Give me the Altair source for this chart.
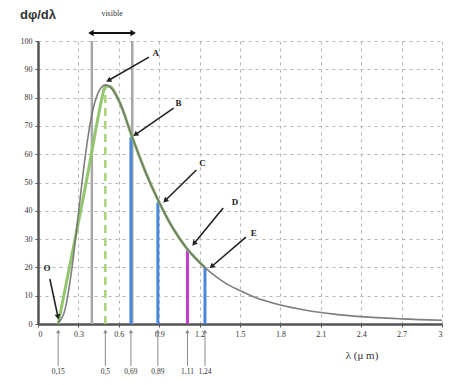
import math
import altair as alt
import pandas as pd

W, H = 404, 283
XMAX, YMAX = 3.0, 100.0

# gray radiation curve
curve_x = [0.15, 0.2, 0.25, 0.3, 0.35, 0.4, 0.45, 0.5, 0.55, 0.6, 0.7, 0.8, 0.9, 1.0,
           1.1, 1.2, 1.3, 1.4, 1.5, 1.6, 1.8, 2.0, 2.2, 2.4, 2.7, 3.0]
curve_y = [0.3, 5, 19, 39, 59, 74, 82, 84.5, 83, 79, 66, 53.5, 43, 34,
           27, 21.7, 17.5, 14.2, 11.8, 9.6, 6.7, 4.8, 3.5, 2.6, 1.8, 1.3]

# green curve
green_x = [0.15, 0.2, 0.25, 0.3, 0.35, 0.4, 0.45, 0.48, 0.5, 0.53, 0.6, 0.7, 0.8, 0.9, 1.0, 1.1, 1.24]
green_y = [0, 12, 24, 36, 48, 61, 74, 81, 84, 84, 79, 66, 53.5, 43, 34, 27, 20]

# visible band limits
vis_x = [0.4, 0.7]
# dashed peak marker
peak_x = [0.5]
peak_y = [84]
# coloured verticals
bar_x = [0.69, 0.89, 1.11, 1.24]
bar_y = [66, 43, 26.5, 20]
bar_c = ["#4a88dc", "#4a88dc", "#c23fd0", "#4a88dc"]

# bottom callouts
bot_x = [0.15, 0.5, 0.69, 0.89, 1.11, 1.24]
bot_t = ["0,15", "0,5", "0,69", "0,89", "1,11", "1,24"]

# letter annotations
let_t = ["A", "B", "C", "D", "E", "O"]
let_x = [0.875, 1.044, 1.221, 1.463, 1.603, 0.066]
let_y = [95.8, 78.1, 56.9, 43.1, 32.2, 19.8]
arr_x0 = [0.824, 1.007, 1.176, 1.375, 1.544, 0.088]
arr_y0 = [94.3, 76.3, 54.4, 41.0, 30.7, 15.9]
arr_x1 = [0.529, 0.728, 0.949, 1.162, 1.294, 0.147]
arr_y1 = [86.2, 67.1, 43.8, 28.6, 20.5, 2.8]

xt = [0, 0.3, 0.6, 0.9, 1.2, 1.5, 1.8, 2.1, 2.4, 2.7, 3.0]
yt = list(range(0, 101, 10))

serif = "Liberation Serif"

xs = alt.Scale(domain=[0, XMAX], nice=False, zero=False)
ys = alt.Scale(domain=[0, YMAX], nice=False, zero=False)

X = lambda f: alt.X(f, type="quantitative", scale=xs, title="",
                    axis=alt.Axis(values=xt, format=".1~f", grid=True))
Y = lambda f: alt.Y(f, type="quantitative", scale=ys, title="",
                    axis=alt.Axis(values=yt, format="d", grid=True))

def ang(x0, y0, x1, y1):
    dx = (x1 - x0) * W / XMAX
    dy = -(y1 - y0) * H / YMAX
    return math.degrees(math.atan2(dx, -dy)) % 360

curve_df = pd.DataFrame({"x": curve_x, "y": curve_y})
green_df = pd.DataFrame({"x": green_x, "y": green_y})

gray_curve = alt.Chart(curve_df).mark_line(color="#707070", strokeWidth=1.6, opacity=0.9,
                                           interpolate="monotone").encode(
    x=X("x"), y=Y("y"), order="x:Q")
green_curve = alt.Chart(green_df).mark_line(color="#93c56f", strokeWidth=3,
                                            interpolate="monotone").encode(
    x=X("x"), y=Y("y"), order="x:Q")

vis_df = pd.DataFrame({"x": vis_x, "y0": [0, 0], "y1": [100, 100]})
vis_rules = alt.Chart(vis_df).mark_rule(color="#a8a8a8", strokeWidth=2.5).encode(
    x=X("x"), y=Y("y0"), y2="y1")

peak_df = pd.DataFrame({"x": peak_x, "y0": [0], "y1": peak_y})
peak_rule = alt.Chart(peak_df).mark_rule(color="#a6d477", strokeWidth=2.5, strokeDash=[8, 5]).encode(
    x=X("x"), y=Y("y0"), y2="y1")

bar_df = pd.DataFrame({"x": bar_x, "y0": [0] * 4, "y1": bar_y, "c": bar_c})
bars = alt.Chart(bar_df).mark_rule(strokeWidth=3).encode(
    x=X("x"), y=Y("y0"), y2="y1", color=alt.Color("c:N", scale=None))

arr_df = pd.DataFrame({"x0": arr_x0, "y0": arr_y0, "x1": arr_x1, "y1": arr_y1,
                       "a": [ang(a, b, c, d) for a, b, c, d in zip(arr_x0, arr_y0, arr_x1, arr_y1)]})
arr_lines = alt.Chart(arr_df).mark_rule(color="#222222", strokeWidth=1.6).encode(
    x=X("x0"), y=Y("y0"), x2="x1", y2="y1")
arr_heads = alt.Chart(arr_df).mark_point(shape="triangle", filled=True, size=35, color="#222222", opacity=1).encode(
    x=X("x1"), y=Y("y1"), angle=alt.Angle("a:Q", scale=None))

let_df = pd.DataFrame({"x": let_x, "y": let_y, "t": let_t})
letters = alt.Chart(let_df).mark_text(font=serif, fontWeight="bold", fontSize=9, color="#222222").encode(
    x=X("x"), y=Y("y"), text="t:N")

# visible double arrow
dv_df = pd.DataFrame({"x0": [vis_x[0]], "x1": [vis_x[1]]})
dv_line = alt.Chart(dv_df).mark_rule(color="#111111", strokeWidth=2).encode(
    x=X("x0"), x2="x1", y=alt.value(-8))
dvh_df = pd.DataFrame({"x": vis_x, "a": [270, 90]})
dv_heads = alt.Chart(dvh_df).mark_point(shape="triangle", filled=True, size=40, color="#111111", opacity=1).encode(
    x=X("x"), y=alt.value(-8), angle=alt.Angle("a:Q", scale=None))
vis_text = alt.Chart(pd.DataFrame({"x": [0.55], "t": ["visible"]})).mark_text(
    font=serif, fontSize=8, color="#333333").encode(x=X("x"), y=alt.value(-27), text="t:N")

# bottom callouts
bot_df = pd.DataFrame({"x": bot_x, "t": bot_t})
bot_lines = alt.Chart(bot_df).mark_rule(color="#8a8a8a", strokeWidth=1).encode(
    x=X("x"), y=alt.value(H + 8), y2=alt.value(H + 42))
bot_heads = alt.Chart(bot_df).mark_point(shape="triangle", filled=True, size=18, color="#8a8a8a", opacity=1).encode(
    x=X("x"), y=alt.value(H + 8))
bot_text = alt.Chart(bot_df).mark_text(font=serif, fontSize=7.5, color="#333333").encode(
    x=X("x"), y=alt.value(H + 48), text="t:N")

ytitle = alt.Chart(pd.DataFrame({"t": ["dφ/dλ"]})).mark_text(
    font="Liberation Sans", fontWeight="bold", fontSize=13, color="#333333").encode(
    x=alt.value(0), y=alt.value(-26), text="t:N")
xtitle = alt.Chart(pd.DataFrame({"t": ["λ (μ m)"]})).mark_text(
    font=serif, fontSize=11, color="#333333").encode(
    x=alt.value(324), y=alt.value(H + 32), text="t:N")

chart = alt.layer(
    vis_rules, peak_rule, bars, green_curve, gray_curve,
    arr_lines, arr_heads, letters, dv_line, dv_heads, vis_text,
    bot_lines, bot_heads, bot_text, ytitle, xtitle
).properties(
    width=W, height=H, autosize="none",
    padding={"left": 30, "top": 33, "right": 1, "bottom": 53}
).configure_view(strokeWidth=0).configure_axis(
    domainColor="#555555", domainWidth=2.5, tickColor="#555555", tickSize=3,
    labelFont=serif, labelFontSize=8, labelColor="#333333",
    gridColor="#b5b5b5", gridDash=[3, 4], gridWidth=1, labelPadding=3
)

chart.save("out.html", embed_options={"renderer": "svg", "actions": False})
